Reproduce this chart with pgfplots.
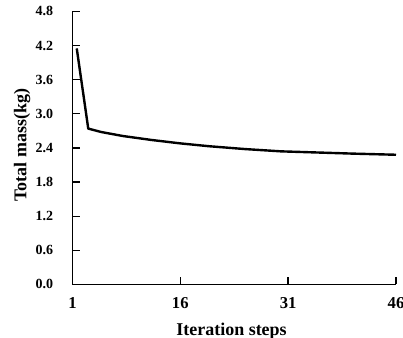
\documentclass[border=0pt]{standalone}
\usepackage{fontspec}
\setmainfont{Liberation Serif}
\usepackage{pgfplots}
\pgfplotsset{compat=1.18}
\begin{document}
\begin{tikzpicture}
\begin{axis}[
  width=243pt, height=205pt,
  scale only axis,
  xmin=1, xmax=46, ymin=0, ymax=4.8,
  axis lines*=left,
  axis line style={line width=1pt},
  xtick={1,16,31,46},
  ytick={0,0.6,1.2,1.8,2.4,3.0,3.6,4.2,4.8},
  tick align=inside,
  major tick length=5.5pt,
  tick style={line width=1pt, black},
  /pgf/number format/assume math mode=true,
  yticklabel style={/pgf/number format/fixed, /pgf/number format/fixed zerofill, /pgf/number format/precision=1, xshift=-11pt, font=\fontsize{10.5}{12}\selectfont\bfseries},
  xticklabel style={yshift=-6pt, font=\fontsize{12.5}{14}\selectfont\bfseries},
  xlabel={Iteration steps},
  ylabel={Total mass(kg)},
  xlabel style={font=\fontsize{13.5}{15}\selectfont\bfseries, yshift=-4pt, xshift=-2pt},
  ylabel style={font=\fontsize{13.5}{15}\selectfont\bfseries, at={(ticklabel cs:0.51)}, yshift=-3pt},
]
\addplot[black, line width=1.8pt, line join=round] coordinates {
  (1.6,4.15) (3.2,2.74) (5,2.68) (8,2.61) (12,2.54) (16,2.48) (20,2.43)
  (25,2.38) (30,2.34) (35,2.32) (40,2.30) (46,2.28)
};
\end{axis}
\pgfresetboundingbox
\path (current axis.south west) ++(-54.4pt,-39.75pt) coordinate (bl);
\path (current axis.north east) ++(5.25pt,8.6pt) coordinate (tr);
\path[use as bounding box] (bl) rectangle (tr);
\end{tikzpicture}
\end{document}
